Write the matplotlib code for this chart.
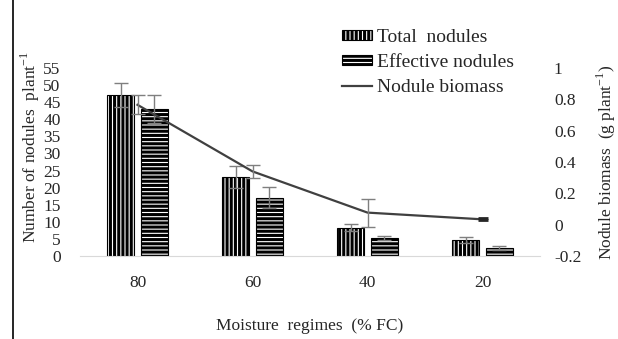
import matplotlib.pyplot as plt
import numpy as np

plt.rcParams['font.family'] = ['Liberation Serif', 'DejaVu Serif']
plt.rcParams['hatch.linewidth'] = 2.2

regimes = ['80', '60', '40', '20']
total_nodules = [47.0, 23.0, 8.3, 4.7]
total_err = [3.5, 3.2, 1.0, 1.0]
effective_nodules = [43.0, 17.1, 5.2, 2.4]
effective_err = [4.0, 3.0, 0.6, 0.6]
biomass = [0.765, 0.34, 0.077, 0.034]
biomass_err = [0.06, 0.04, 0.09, 0.006]

txt = '#262626'
ecol = '#7f7f7f'

fig = plt.figure(figsize=(6.18, 3.39), dpi=100)
ax = fig.add_axes([80 / 618, 1 - 256 / 339, 460 / 618, 188 / 339])
ax2 = ax.twinx()

x = np.arange(len(regimes))
w = 0.235
off = 0.145

ax.bar(x - off, total_nodules, w, color='white', edgecolor='black',
       hatch='||||', linewidth=0.8, label='Total  nodules', zorder=2)
ax.bar(x + off, effective_nodules, w, color='white', edgecolor='black',
       hatch='----', linewidth=0.8, label='Effective nodules', zorder=2)
ax.errorbar(x - off, total_nodules, yerr=total_err, fmt='none', ecolor=ecol,
            elinewidth=1, capsize=5, capthick=1, zorder=3)
ax.errorbar(x + off, effective_nodules, yerr=effective_err, fmt='none', ecolor=ecol,
            elinewidth=1, capsize=5, capthick=1, zorder=3)

ax2.plot(x, biomass, color='#404040', linewidth=1.6, label='Nodule biomass', zorder=4)
ax2.errorbar(x[:-1], biomass[:-1], yerr=biomass_err[:-1], fmt='none', ecolor=ecol,
             elinewidth=1, capsize=5, capthick=1, zorder=4)
ax2.errorbar(x[-1:], biomass[-1:], yerr=biomass_err[-1:], fmt='none', ecolor='#262626',
             elinewidth=2, capsize=3.5, capthick=2, zorder=5)

ax.set_xlim(-0.5, 3.5)
ax.set_ylim(0, 55)
ax.set_yticks(range(0, 56, 5))
ax2.set_ylim(-0.2, 1.0)
ax2.set_yticks([-0.2, 0, 0.2, 0.4, 0.6, 0.8, 1])
ax2.set_yticklabels(['-0.2', '0', '0.2', '0.4', '0.6', '0.8', '1'])
ax.set_xticks(x)
ax.set_xticklabels(regimes)

for a in (ax, ax2):
    for s in a.spines.values():
        s.set_visible(False)
    a.tick_params(length=0, labelsize=12.5, colors=txt)
ax.spines['bottom'].set_visible(True)
ax.spines['bottom'].set_color('#d9d9d9')
ax.tick_params(axis='x', pad=14)
ax.tick_params(axis='y', pad=14)
ax2.tick_params(axis='y', pad=10)

ax.set_ylabel('Number of nodules  plant$^{\\mathregular{-1}}$', fontsize=12.5, color=txt)
ax.yaxis.set_label_coords(-0.083, 0.58)
fig.text(606 / 618, 0.52, 'Nodule biomass  (g plant$^{\\mathregular{-1}}$)', rotation=90,
         ha='center', va='center', fontsize=12.5, color=txt)
fig.text(310 / 618, 1 - 326 / 339, 'Moisture  regimes  (% FC)', ha='center', va='center',
         fontsize=12.5, color=txt)

h1, l1 = ax.get_legend_handles_labels()
h2, l2 = ax2.get_legend_handles_labels()
fig.legend(h1 + h2, l1 + l2, loc='upper left', bbox_to_anchor=(342 / 618, 1 - 29 / 339),
           frameon=False, fontsize=14, handlelength=1.55, handleheight=0.45,
           handletextpad=0.25, labelspacing=0.42, borderaxespad=0, borderpad=0,
           labelcolor=txt)

fig.add_artist(plt.Line2D([13 / 618, 13 / 618], [0, 1], color='black', linewidth=1.2))

fig.savefig('out.png', dpi=100)
